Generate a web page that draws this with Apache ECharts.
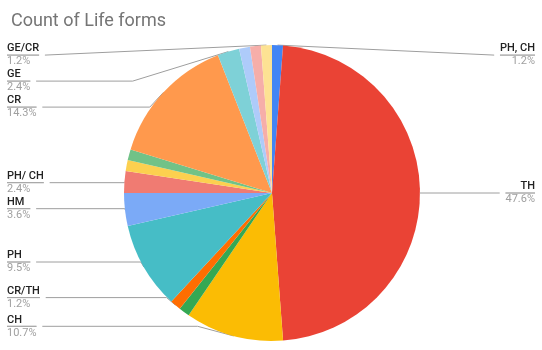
<!DOCTYPE html>
<html>
<head>
<meta charset="utf-8">
<script src="https://cdn.jsdelivr.net/npm/echarts@6/dist/echarts.min.js"></script>
<style>html,body{margin:0;padding:0;background:#fff}#c{width:542px;height:350px}</style>
</head>
<body>
<div id="c"></div>
<script>
var title = 'Count of Life forms';
var categories = ['PH, CH','TH','CH','TH/CH','CR/TH','PH','HM','PH/ CH','HM/CH','GE/TH','CR','GE','CR/CH','HM/TH','GE/CR'];
var counts = [1,40,9,1,1,8,3,2,1,1,12,2,1,1,1];
var unlabeled = ['TH/CH','HM/CH','GE/TH','CR/CH','HM/TH'];
var colors = ['#4285f4','#ea4335','#fbbc04','#34a853','#ff6d01','#46bdc6','#7baaf7','#f07b72','#fcd04f','#71c287','#ff994d','#7ed1d7','#aecbfa','#f6aea9','#fde293'];

var total = counts.reduce(function(a,b){return a+b;},0);
var data = categories.map(function(n,i){
  var d = {name:n, value:counts[i]};
  if (unlabeled.indexOf(n) >= 0) { d.label = {show:false}; d.labelLine = {show:false}; }
  return d;
});

var chart = echarts.init(document.getElementById('c'));
chart.setOption({
  animation:false,
  color: colors,
  title:{text:title,left:6,top:7,textStyle:{fontFamily:'Roboto',fontSize:18,fontWeight:'normal',color:'#757575'}},
  series:[{
    type:'pie',
    center:[272,193],
    radius:[0,148],
    startAngle:90,
    clockwise:true,
    avoidLabelOverlap:true,
    data:data,
    itemStyle:{borderWidth:0},
    label:{
      show:true,
      alignTo:'edge',
      edgeDistance:7,
      formatter:function(p){
        return '{n|' + p.name + '}\n{hr|}\n{p|' + (p.value / total * 100).toFixed(1) + '%}';
      },
      rich:{
        n:{fontFamily:'Roboto',fontSize:11,color:'#222',fontWeight:500,lineHeight:13},
        hr:{borderColor:'#9e9e9e',borderWidth:0.8,width:'100%',height:0},
        p:{fontFamily:'Roboto',fontSize:11,color:'#a0a0a0',lineHeight:13}
      }
    },
    labelLine:{show:true,length:-10,length2:10,lineStyle:{color:'#9e9e9e',width:1}}
  }]
});
</script>
</body>
</html>
